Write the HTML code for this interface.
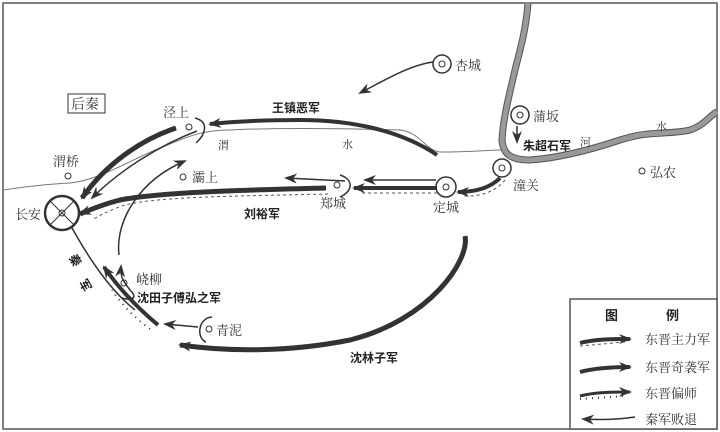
<!DOCTYPE html>
<html><head><meta charset="utf-8"><style>
html,body{margin:0;padding:0;background:#fff}
svg{display:block}
text{font-family:"Liberation Serif","Noto Serif CJK SC",serif;fill:#333;font-size:13px}
.b{font-family:"Liberation Sans","Noto Sans CJK SC",sans-serif;font-weight:bold;font-size:12px;fill:#222}
</style></head><body>
<svg width="720" height="432" viewBox="0 0 720 432" xmlns="http://www.w3.org/2000/svg">
<defs>
<marker id="a" markerWidth="13" markerHeight="10" refX="11" refY="5" orient="auto" markerUnits="userSpaceOnUse"><path d="M0,0 L13,5 L0,10 L4,5z" fill="#333"/></marker>
</defs>
<rect x="3" y="3" width="714" height="426" fill="none" stroke="#555" stroke-width="1.5"/>
<path d="M3,190 C30,186 50,184 70,183 C100,180 130,160 160,148 C185,138 200,130 230,130 C270,128 330,128 400,130 C420,132 425,150 440,152 C470,152 490,150 503,150" fill="none" stroke="#777" stroke-width="1"/>
<path d="M528,3 C526,30 520,50 515,70 C508,100 503,120 502,140 C503,155 512,160 530,160 C560,158 590,150 620,140 C650,130 670,135 690,130 C705,125 710,115 717,112" fill="none" stroke="#555" stroke-width="7"/>
<path d="M528,3 C526,30 520,50 515,70 C508,100 503,120 502,140 C503,155 512,160 530,160 C560,158 590,150 620,140 C650,130 670,135 690,130 C705,125 710,115 717,112" fill="none" stroke="#999" stroke-width="5"/>
<rect x="570" y="299" width="147" height="130" fill="#fff" stroke="#555" stroke-width="1.5"/>
<text x="605" y="320" class="b" style="font-size:13px">图</text>
<text x="666" y="320" class="b" style="font-size:13px">例</text>
<path d="M580,343 C595,339 615,339 630,339" stroke="#333" stroke-width="4" fill="none" marker-end="url(#a)"/>
<path d="M580,346 L625,342" stroke="#555" stroke-dasharray="3,3" fill="none"/>
<text x="645" y="344">东晋主力军</text>
<path d="M580,372 C595,368 615,367 630,367" stroke="#333" stroke-width="4" fill="none" marker-end="url(#a)"/>
<text x="645" y="372">东晋奇袭军</text>
<path d="M580,396 C595,392 615,392 630,392" stroke="#333" stroke-width="3" fill="none" marker-end="url(#a)"/>
<path d="M580,399 L625,396" stroke="#333" stroke-dasharray="1,5" stroke-width="2" fill="none"/>
<text x="645" y="398">东晋偏师</text>
<path d="M635,417 C615,420 600,420 583,419" stroke="#333" stroke-width="1.5" fill="none" marker-end="url(#a)"/>
<text x="645" y="424">秦军败退</text>
<rect x="68" y="94" width="37" height="19" fill="#fff" stroke="#333"/>
<text x="71" y="109" style="font-size:14px">后秦</text>
<circle cx="62" cy="213" r="17" fill="#fff" stroke="#333" stroke-width="2.5"/>
<path d="M50,201 L74,225 M74,201 L50,225" stroke="#333"/>
<circle cx="62" cy="213" r="3" fill="none" stroke="#333"/>
<text x="15" y="219">长安</text>
<circle cx="68" cy="176" r="3" fill="none" stroke="#333"/><text x="53" y="166">渭桥</text>
<circle cx="189" cy="127" r="3" fill="none" stroke="#333"/><text x="163" y="117">泾上</text>
<path d="M195,118 C210,122 205,135 196,143" fill="none" stroke="#333" stroke-width="1.5"/>
<circle cx="183" cy="177" r="3" fill="none" stroke="#333"/><text x="192" y="182">灞上</text>
<circle cx="337" cy="185" r="3" fill="none" stroke="#333"/>
<path d="M340,175 C355,180 352,192 340,197" fill="none" stroke="#333" stroke-width="1.5"/>
<text x="320" y="208">郑城</text>
<circle cx="446" cy="187" r="10" fill="#fff" stroke="#333" stroke-width="1.5"/><circle cx="446" cy="187" r="3" fill="none" stroke="#333"/>
<text x="433" y="212">定城</text>
<circle cx="502" cy="168" r="9" fill="#fff" stroke="#333" stroke-width="1.5"/><circle cx="502" cy="168" r="3" fill="none" stroke="#333"/>
<text x="513" y="190">潼关</text>
<circle cx="442" cy="64" r="9" fill="#fff" stroke="#333" stroke-width="1.5"/><circle cx="442" cy="64" r="3" fill="none" stroke="#333"/>
<text x="455" y="70">杏城</text>
<circle cx="520" cy="115" r="9" fill="#fff" stroke="#333" stroke-width="1.5"/><circle cx="520" cy="115" r="3" fill="none" stroke="#333"/>
<text x="533" y="121">蒲坂</text>
<circle cx="642" cy="171" r="3" fill="none" stroke="#333"/><text x="650" y="177">弘农</text>
<circle cx="124" cy="283" r="3" fill="none" stroke="#333"/><text x="136" y="284">峣柳</text>
<circle cx="209" cy="329" r="3" fill="none" stroke="#333"/><text x="216" y="335">青泥</text>
<path d="M212,317 C198,318 196,338 206,342" fill="none" stroke="#333" stroke-width="1.5"/>
<text x="218" y="149" style="font-size:11px">渭</text>
<text x="342" y="148" style="font-size:11px">水</text>
<text x="580" y="146" style="font-size:11px">河</text>
<text x="656" y="130" style="font-size:11px">水</text>
<path d="M437,155 C400,130 350,120 300,120 C260,120 230,122 210,124" fill="none" stroke="#333" stroke-width="4" marker-end="url(#a)"/>
<text x="272" y="112" class="b">王镇恶军</text>
<path d="M176,128 C140,140 105,165 82,198" fill="none" stroke="#333" stroke-width="5" marker-end="url(#a)"/>
<path d="M197,131 C160,145 120,170 92,198" fill="none" stroke="#333" stroke-width="1.5" marker-end="url(#a)"/>
<path d="M119,255 C115,220 140,180 185,161" fill="none" stroke="#333" stroke-width="1.5" marker-end="url(#a)"/>
<path d="M326,188 C250,190 160,192 120,200 C100,205 90,210 80,214" fill="none" stroke="#333" stroke-width="5" marker-end="url(#a)"/>
<path d="M328,194 C250,196 160,196 125,205 C110,210 100,215 92,220" fill="none" stroke="#555" stroke-dasharray="3,3"/>
<text x="244" y="218" class="b">刘裕军</text>
<path d="M345,181 L286,178" fill="none" stroke="#333" stroke-width="1.5" marker-end="url(#a)"/>
<path d="M436,180 L365,180" fill="none" stroke="#333" stroke-width="1.5" marker-end="url(#a)"/>
<path d="M437,188 L354,188" fill="none" stroke="#333" stroke-width="4" marker-end="url(#a)"/>
<path d="M437,193 L360,193" fill="none" stroke="#555" stroke-dasharray="3,3"/>
<path d="M500,178 C490,188 475,192 458,192" fill="none" stroke="#333" stroke-width="4" marker-end="url(#a)"/>
<path d="M505,180 C495,192 480,197 462,196" fill="none" stroke="#555" stroke-dasharray="3,3"/>
<path d="M433,62 C410,65 385,80 360,93" fill="none" stroke="#333" stroke-width="1.5" marker-end="url(#a)"/>
<path d="M517,126 L517,142" fill="none" stroke="#333" stroke-width="1.5" marker-end="url(#a)"/>
<text x="523" y="150" class="b">朱超石军</text>
<path d="M465,236 C470,260 430,320 350,340 C290,352 230,352 180,345" fill="none" stroke="#333" stroke-width="5" marker-end="url(#a)"/>
<text x="350" y="362" class="b">沈林子军</text>
<path d="M72,228 C90,260 110,290 135,310" fill="none" stroke="#333" stroke-width="1.5"/>
<path d="M158,325 C140,310 120,290 104,267" fill="none" stroke="#333" stroke-width="4" marker-end="url(#a)"/>
<path d="M150,329 C135,318 122,305 112,290" fill="none" stroke="#333" stroke-dasharray="1,5" stroke-width="2"/>
<path d="M122,298 C128,300 140,300 130,290 C124,282 120,278 121,266" fill="none" stroke="#333" stroke-width="1.5" marker-end="url(#a)"/>
<path d="M198,327 L165,324" fill="none" stroke="#333" stroke-width="1.5" marker-end="url(#a)"/>
<text x="137" y="302" class="b">沈田子傅弘之军</text>
<text x="70" y="265" class="b" transform="rotate(60 76 260)">秦</text>
<text x="80" y="290" class="b" transform="rotate(60 86 285)">军</text>
</svg>
</body></html>
